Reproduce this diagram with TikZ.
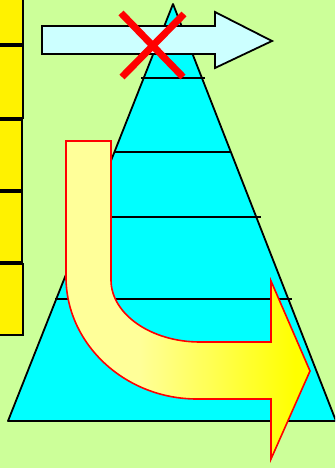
\documentclass[tikz,border=0pt]{standalone}
\usetikzlibrary{calc}
\definecolor{bggreen}{RGB}{204,255,153}
\definecolor{lightyel}{RGB}{255,255,153}
\definecolor{palecyan}{RGB}{204,255,255}
\definecolor{tricyan}{RGB}{0,255,255}
\pgfdeclarehorizontalshading{uarrowshade}{100bp}{color(0bp)=(lightyel); color(40bp)=(lightyel); color(72bp)=(yellow); color(100bp)=(yellow)}
\tikzset{
  ybox/.style={fill=yellow, draw=black, line width=1.8pt},
  tri/.style={fill=tricyan, draw=black, line width=1.8pt, line join=round},
  level/.style={draw=black, line width=1.8pt},
  cyarrow/.style={fill=palecyan, draw=black, line width=1.8pt, line join=miter},
  cross/.style={draw=red, line width=7pt},
  uarrow/.style={shading=uarrowshade, draw=red, line width=1.6pt, line join=miter}
}
\begin{document}
\begin{tikzpicture}[x=1pt,y=-1pt]
\useasboundingbox (0,0) rectangle (335,468);
\clip (0,0) rectangle (335,468);
\fill[bggreen] (0,0) rectangle (335,468);
% yellow boxes on the left
\draw[ybox] (-5,-5) rectangle (23,44);
\draw[ybox] (-5,46) rectangle (23,118);
\draw[ybox] (-5,120) rectangle (22,190);
\draw[ybox] (-5,192) rectangle (22,262);
\draw[ybox] (-5,264) rectangle (23,335);
% triangle
\coordinate (apex) at (173,4);
\coordinate (bl) at (8,421);
\coordinate (br) at (336,421);
\draw[tri] (apex) -- (bl) -- (br) -- cycle;
% level lines
\draw[level] (141,78) -- (205,78);
\draw[level] (115,152) -- (231,152);
\draw[level] (86,217) -- (261,217);
\draw[level] (55,299) -- (292,299);
% pale cyan arrow
\draw[cyarrow] (42,26) -- (215,26) -- (215,12) -- (272,41) -- (215,68) -- (215,54) -- (42,54) -- cycle;
% red cross
\draw[cross] (121,13) -- (183,77);
\draw[cross] (184,14) -- (122,77);
% yellow U-turn arrow
\draw[uarrow] (66,141) -- (111,141) -- (111,280)
  .. controls (111,314) and (151,342) .. (200,342)
  -- (271,342) -- (271,281) -- (310,371) -- (271,459) -- (271,399) -- (197,399)
  .. controls (125,399) and (66,344) .. (66,277) -- cycle;
\end{tikzpicture}
\end{document}
